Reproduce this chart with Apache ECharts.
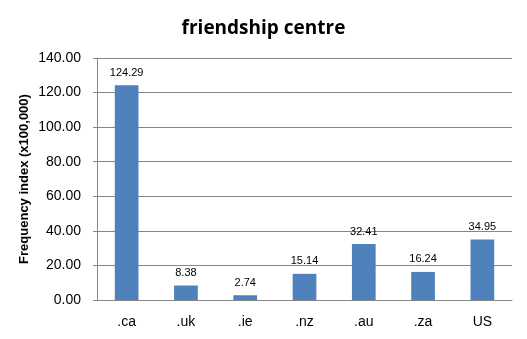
<!DOCTYPE html>
<html><head><meta charset="utf-8">
<script src="https://cdn.jsdelivr.net/npm/echarts@6/dist/echarts.min.js"></script>
<style>html,body{margin:0;padding:0;background:#fff}#c{width:527px;height:339px}</style>
</head><body><div id="c"></div>
<script>
const categories = ['.ca', '.uk', '.ie', '.nz', '.au', '.za', 'US'];
const values = [124.29, 8.38, 2.74, 15.14, 32.41, 16.24, 34.95];
const title = 'friendship centre';
const yName = 'Frequency index (x100,000)';

const chart = echarts.init(document.getElementById('c'));
chart.setOption({
  animation: false,
  backgroundColor: '#fff',
  title: {
    text: title, left: 'center', top: 14,
    textStyle: { fontFamily: 'Open Sans', fontSize: 19, fontWeight: 'bold', color: '#000' }
  },
  grid: { left: 97, right: 15, top: 58, bottom: 39 },
  xAxis: {
    type: 'category', data: categories,
    axisLine: { lineStyle: { color: '#868686' } },
    axisTick: { show: false },
    axisLabel: { color: '#000', fontFamily: 'Liberation Sans', fontSize: 14, margin: 15 }
  },
  yAxis: {
    type: 'value', min: 0, max: 140, interval: 20,
    name: yName, nameLocation: 'middle', nameGap: 66, nameMoveOverlap: false,
    nameTextStyle: { fontFamily: 'Liberation Sans', fontSize: 13, fontWeight: 'bold', color: '#000' },
    axisLine: { show: true, lineStyle: { color: '#868686' } },
    axisTick: { show: true, length: 4, lineStyle: { color: '#868686' } },
    axisLabel: { color: '#000', fontFamily: 'Liberation Sans', fontSize: 14, margin: 16,
      formatter: v => v.toFixed(2) },
    splitLine: { lineStyle: { color: '#868686' } }
  },
  series: [{
    type: 'bar', data: values, barWidth: '40%',
    itemStyle: { color: '#4F81BD' },
    label: { show: true, position: 'top', distance: 7, color: '#000',
      fontFamily: 'Liberation Sans', fontSize: 11, formatter: p => p.value.toFixed(2) }
  }]
});
</script></body></html>
